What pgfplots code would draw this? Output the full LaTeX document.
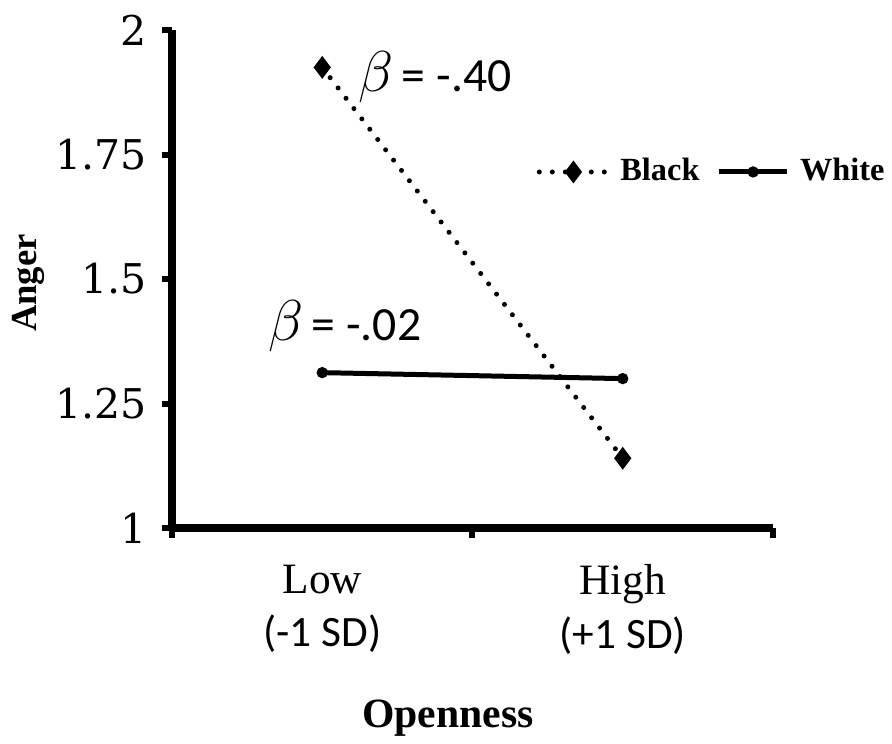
\documentclass[border=0pt]{standalone}
\usepackage{fontspec}
\setmainfont{Liberation Serif}
\newfontfamily\calibri{Carlito}
\newfontfamily\tickfont{DejaVu Serif}
\usepackage{pgfplots}
\pgfplotsset{compat=1.18}
\begin{document}
\begin{tikzpicture}
\useasboundingbox (0,0) rectangle (267.6pt,222.9pt);
\begin{axis}[
  at={(51.6pt,64.5pt)}, anchor=south west,
  scale only axis, width=180.3pt, height=149.4pt,
  xmin=0, xmax=2, ymin=1, ymax=2,
  axis x line*=bottom, axis y line*=left,
  axis line style={line width=2.3pt, -},
  every outer x axis line/.append style={line width=2.3pt},
  every outer y axis line/.append style={line width=2.3pt},
  every tick/.style={black, line width=1.8pt},
  tick align=outside, major tick length=3pt,
  xtick={0,1,2}, xticklabels={},
  ytick={1,1.25,1.5,1.75,2},
  yticklabels={1,1.25,1.5,1.75,2},
  yticklabel style={font=\tickfont\fontsize{12.3}{14}\selectfont, xshift=-1pt},
  extra x ticks={0.5,1.5},
  extra x tick labels={{Low\\{\calibri(-1 SD)}},{High\\{\calibri(+1 SD)}}},
  extra x tick style={major tick length=0pt, tick style={draw=none},
    xticklabel style={font=\fontsize{13}{16}\selectfont, align=center, yshift=-7.5pt}},
  clip=false,
  legend columns=2,
  legend style={draw=none, fill=none, at={(rel axis cs:1.19,0.715)}, anchor=east,
    font=\fontsize{9.7}{12}\selectfont\bfseries, inner sep=0pt,
    nodes={inner sep=0.6pt},
    /tikz/every odd column/.append style={column sep=2.5pt},
    /tikz/every even column/.append style={column sep=4.5pt}},
  legend image code/.code={\draw[mark repeat=2,mark phase=2,#1] plot coordinates {(0cm,0cm) (0.36cm,0cm) (0.72cm,0cm)};},
]
\addplot[black, line width=1.5pt, line cap=round, dash pattern=on 0pt off 3.9pt,
  mark=diamond*, mark size=2.2pt, mark options={solid}] coordinates {(0.5,1.925) (1.5,1.14)};
\addlegendentry{Black}
\addplot[black, line width=1.5pt, mark=*, mark size=0.9pt] coordinates {(0.5,1.312) (1.5,1.30)};
\addlegendentry{White}
\node[anchor=west, inner sep=0pt] at (axis cs:0.62,1.905) {\fontsize{17}{19}\selectfont$\beta${\calibri\fontsize{14.3}{17}\selectfont\,= -.40}};
\node[anchor=west, inner sep=0pt] at (axis cs:0.32,1.405) {\fontsize{17}{19}\selectfont$\beta${\calibri\fontsize{14.3}{17}\selectfont\,= -.02}};
\node[font=\fontsize{12.5}{14}\selectfont\bfseries] at (rel axis cs:0.459,-0.3815) {Openness};
\node[rotate=90, font=\fontsize{11}{13}\selectfont\bfseries] at (rel axis cs:-0.2396,0.492) {Anger};
\end{axis}
\end{tikzpicture}
\end{document}
